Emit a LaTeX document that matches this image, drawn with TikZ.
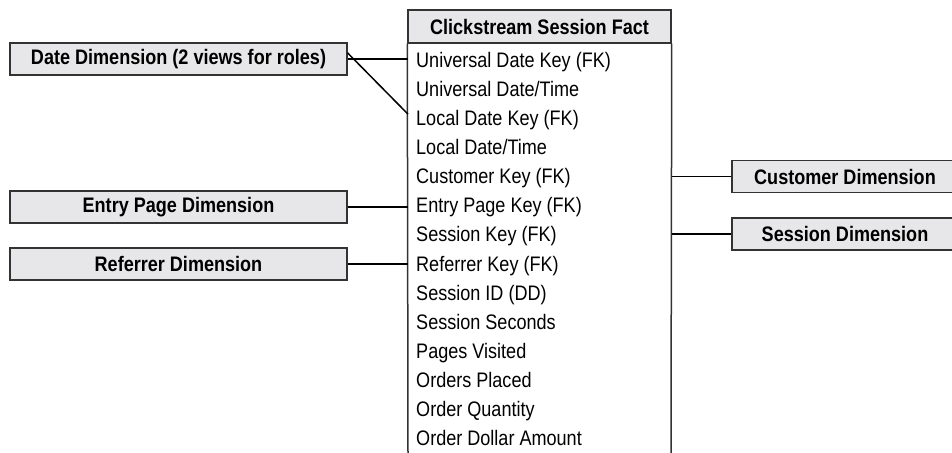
\documentclass[tikz,border=0pt]{standalone}
\usepackage{fontspec}
\setmainfont{Liberation Sans}[FakeStretch=0.86]
\definecolor{boxfill}{HTML}{E7E7E9}
\definecolor{edge}{HTML}{333333}
\begin{document}
\begin{tikzpicture}[x=1pt,y=-1pt,
  dimbox/.style={draw=edge,line width=1.4pt,fill=boxfill,minimum height=32pt,inner sep=0pt,font=\fontsize{21}{23}\selectfont\bfseries},
  row/.style={anchor=west,inner sep=0pt,inner xsep=8pt,text height=15pt,text depth=4pt,font=\fontsize{21}{23}\selectfont},
  link/.style={draw=black,line width=1.5pt}]
\useasboundingbox (0,0) rectangle (952,452);
% fact table
\node[draw=edge,line width=1.4pt,fill=boxfill,minimum width=263pt,minimum height=33pt,inner sep=0pt,font=\fontsize{21}{23}\selectfont\bfseries] (hdr) at (539.5,26.5) {Clickstream Session Fact};
\draw[draw=edge,line width=1.5pt] (hdr.south west) -- (408,455);
\draw[draw=edge,line width=1.5pt] (hdr.south east) -- (671,455);
\foreach \n/\t [count=\i from 0] in {udk/{Universal Date Key (FK)},udt/{Universal Date/Time},ldk/{Local Date Key (FK)},ldt/{Local Date/Time},cuk/{Customer Key (FK)},epk/{Entry Page Key (FK)},sek/{Session Key (FK)},rek/{Referrer Key (FK)},sid/{Session ID (DD)},ses/{Session Seconds},pav/{Pages Visited},orp/{Orders Placed},orq/{Order Quantity},oda/{Order Dollar Amount}}
  \node[row] (\n) at (408,62+29.08*\i) {\t};
% dimensions
\node[dimbox,minimum width=337pt] (date) at (178.5,59) {Date Dimension (2 views for roles)};
\node[dimbox,minimum width=337pt] (entry) at (178.5,207) {Entry Page Dimension};
\node[dimbox,minimum width=337pt] (ref) at (178.5,264) {Referrer Dimension};
\node[dimbox,minimum width=226pt] (cust) at (845,176.5) {Customer Dimension};
\node[dimbox,minimum width=226pt] (sess) at (845,234) {Session Dimension};
% connectors
\draw[link] (date.east) -- (date.east -| udk.west);
\draw[link] ([yshift=6pt]date.east) -- ([yshift=6pt]ldk.west);
\draw[link] (entry.east) -- (entry.east -| epk.west);
\draw[link] (ref.east) -- (ref.east -| rek.west);
\draw[link] (cust.west) -- (cust.west -| hdr.east);
\draw[link] (sess.west) -- (sess.west -| hdr.east);
\end{tikzpicture}
\end{document}
